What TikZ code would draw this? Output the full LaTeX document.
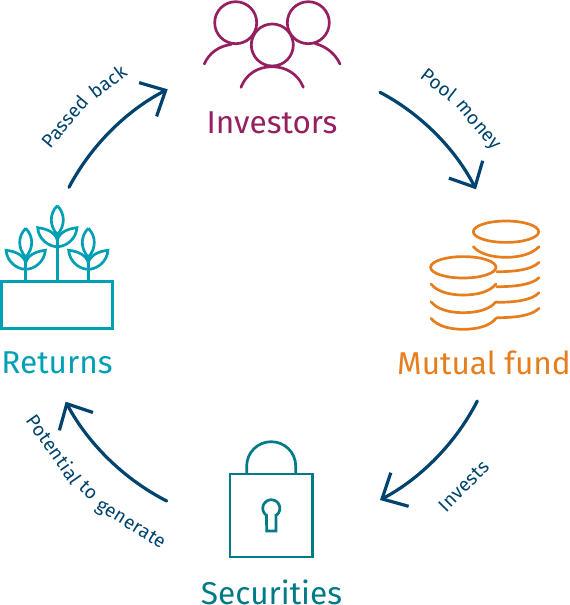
\documentclass[tikz,border=0pt]{standalone}
\usepackage{fontspec}
\setmainfont{Fira Sans}
\usetikzlibrary{arrows.meta}
\definecolor{inv}{HTML}{96205F}
\definecolor{ret}{HTML}{00A0B4}
\definecolor{mut}{HTML}{E67E1E}
\definecolor{sec}{HTML}{007A87}
\definecolor{flow}{HTML}{00436E}
\tikzset{
  biglabel/.style={font=\fontsize{31.6}{34}\selectfont,inner sep=0pt},
  flowarrow/.style={flow,line width=3.2pt,line cap=round,
    -{Straight Barb[length=20pt,width=38pt,line width=3.2pt]},
    bend left=17.5,looseness=0.86},
  icon/.style={line width=2.7pt},
  flowword/.style={flow,font=\fontsize{19}{20}\selectfont\addfontfeature{LetterSpace=2},inner sep=0pt,anchor=base},
  pics/plant/.style={code={
    \draw[icon,ret,line join=round] (0,0) .. controls (-8,8) and (-8,20) .. (0,29) .. controls (8,20) and (8,8) .. (0,0);
    \draw[icon,ret,line join=miter] (0,34.3) .. controls (-2,27) and (-10,23) .. (-19.6,22) .. controls (-19,33) and (-9,41) .. (0,41);
    \draw[icon,ret,line join=miter] (0,34.3) .. controls (2,27) and (10,23) .. (19.6,22) .. controls (19,33) and (9,41) .. (0,41);
    \draw[icon,ret] (0,29) -- (0,#1);
  }}
}
\begin{document}
\begin{tikzpicture}[x=1pt,y=-1pt]
\useasboundingbox (0,0) rectangle (570,605);
% labels
\node[biglabel,inv] (investors) at (272,122.5) {Investors};
\node[biglabel,mut] (mutual) at (484,363) {Mutual fund};
\node[biglabel,sec] (securities) at (271.5,592.5) {Securities};
\node[biglabel,ret] (returns) at (57,363) {Returns};
% investors icon
\begin{scope}[icon,inv,line cap=round]
\draw (235.7,22.7) circle[radius=21];
\draw (308.3,22.7) circle[radius=21];
\draw (272.3,45) circle[radius=21];
\draw (204.3,64) .. controls (209,53) and (219,46) .. (231,44.5);
\draw (340,64) .. controls (335,53) and (325,46) .. (315,43.5);
\draw (241,87.3) .. controls (246,74) and (258,66.7) .. (272,66.7) .. controls (286,66.7) and (298,74) .. (303.3,87.3);
\end{scope}
% coins icon
\begin{scope}[icon,mut,line cap=round]
\draw (506,231.7) ellipse[x radius=32.7,y radius=10.7];
\draw (463.3,267.3) ellipse[x radius=32.7,y radius=10.7];
\draw (473.3,246.7) .. controls (480,254) and (492,257.3) .. (506,257.3) .. controls (520,257.3) and (532,254) .. (539,246.7);
\foreach \ya/\yb in {271.7/262.3,286.7/277.7,302.3/292.7,317.7/308.3}
  \draw (496.7,\ya) .. controls (515,\ya) and (532,\ya-2) .. (539,\yb);
\foreach \yy in {284,301.7,318.3}
  \draw (431,\yy) .. controls (437,\yy+7.5) and (449,\yy+11) .. (463.3,\yy+11) .. controls (478,\yy+11) and (490,\yy+7.5) .. (496,\yy);
\end{scope}
% lock icon
\begin{scope}[icon,sec]
\draw (230,474) rectangle (312.7,557);
\draw (246.7,474) -- (246.7,466) .. controls (246.7,452.5) and (257.7,441.7) .. (271.2,441.7) .. controls (284.7,441.7) and (295.7,452.5) .. (295.7,466) -- (295.7,474);
\draw[line join=miter] (266.7,531) -- (276,531) -- (276,515.3) -- plot[domain=55:-235,samples=40] ({271.3+8.5*cos(\x)},{508.3+8.5*sin(\x)}) -- cycle;
\end{scope}
% plants icon
\draw[icon,ret] (1.3,281.7) rectangle (112.7,328.3);
\pic at (57.3,205.7) {plant={75.3}};
\pic at (25.7,228.3) {plant={52.7}};
\pic at (88.3,228.3) {plant={52.7}};
% connector ends
\coordinate (a1s) at (380,92.3);
\coordinate (a1e) at (476,189.3);
\coordinate (a2s) at (477.3,401);
\coordinate (a2e) at (380,500);
\coordinate (a3s) at (166.7,501);
\coordinate (a3e) at (65.7,401.7);
\coordinate (a4s) at (69,187.3);
\coordinate (a4e) at (167.7,89.3);
\draw[flowarrow] (a1s) to (a1e);
\draw[flowarrow] (a2s) to (a2e);
\draw[flowarrow] (a3s) to (a3e);
\draw[flowarrow] (a4s) to (a4e);
% captions following the circle, word by word
\foreach \nm/\word/\th in {wa/Passed/220.4,wb/back/232.8}
  \node[flowword,rotate=-\th-90] (\nm) at ({272+265*cos(\th)},{298+265*sin(\th)}) {\word};
\foreach \nm/\word/\th in {wc/Pool/308,wd/money/320}
  \node[flowword,rotate=-\th-90] (\nm) at ({272+264*cos(\th)},{298+264*sin(\th)}) {\word};
\foreach \nm/\word/\th in {we/Invests/44.5}
  \node[flowword,rotate=90-\th] (\nm) at ({272+275*cos(\th)},{298+275*sin(\th)}) {\word};
\foreach \nm/\word/\th in {wf/Potential/145.2,wg/to/133.6,wh/generate/122}
  \node[flowword,rotate=90-\th] (\nm) at ({272+272*cos(\th)},{298+272*sin(\th)}) {\word};
\end{tikzpicture}
\end{document}
